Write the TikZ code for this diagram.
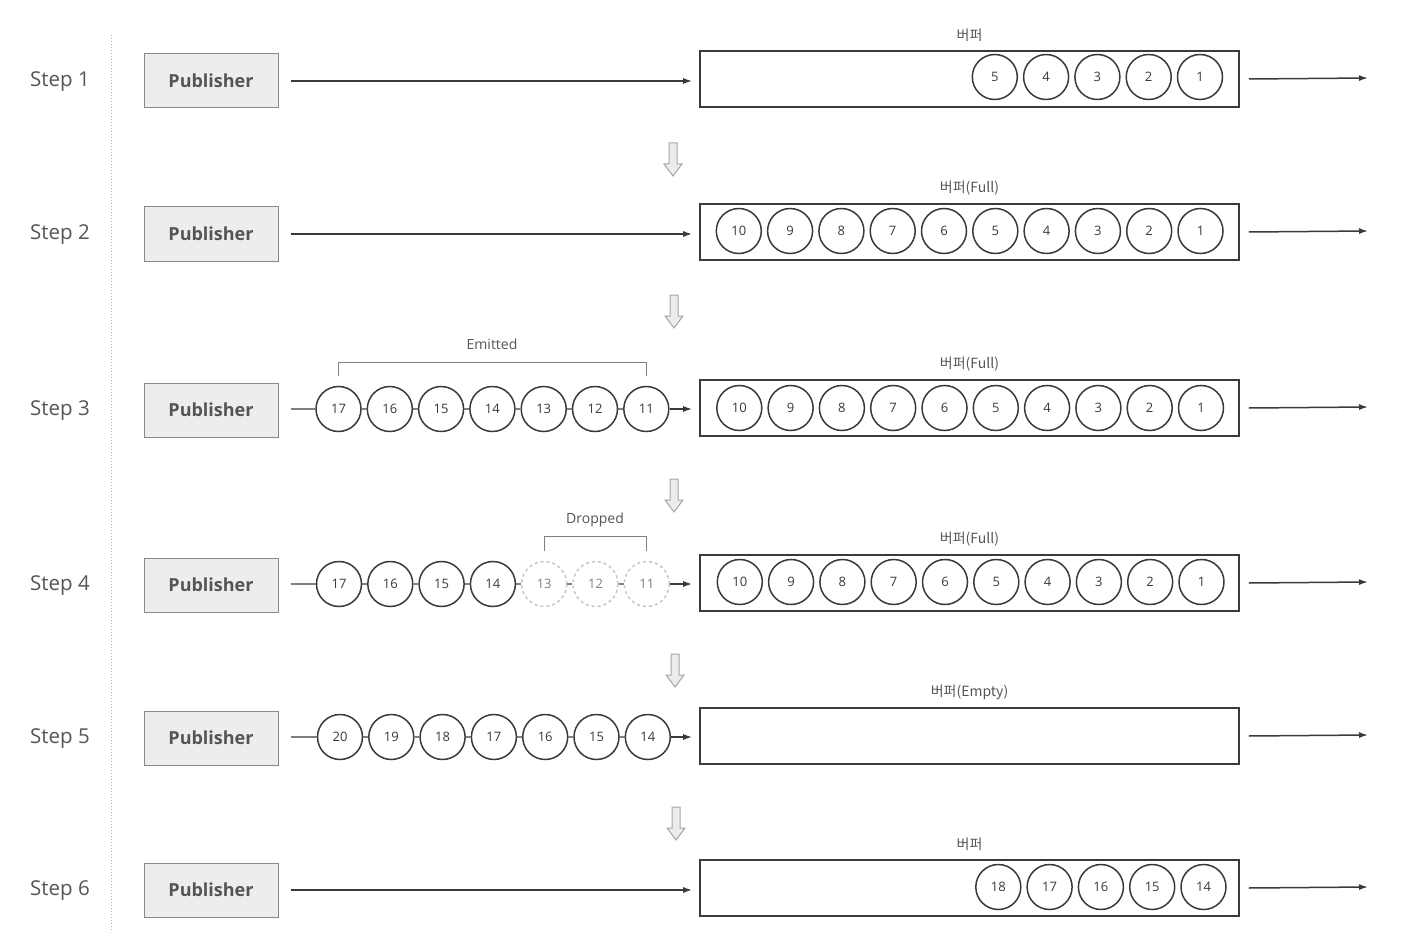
\documentclass[tikz,border=0pt]{standalone}
\usepackage{fontspec}
\setmainfont{Open Sans}
\newfontfamily\krfont{Noto Sans CJK KR}
\usetikzlibrary{arrows.meta,calc}
\definecolor{linec}{HTML}{3A3A3A}
\definecolor{txtg}{HTML}{555555}
\definecolor{pubfill}{HTML}{EDEDED}
\definecolor{pubdraw}{HTML}{8A8A8A}
\tikzset{
  steplabel/.style={font=\fontsize{20.5}{23}\selectfont, text=txtg},
  pub/.style={draw=pubdraw, line width=1pt, fill=pubfill, minimum width=134pt, minimum height=54pt, inner sep=0pt, font=\bfseries\fontsize{18}{20}\selectfont, text=txtg},
  buf/.style={draw=linec, line width=1.6pt, minimum width=539pt, minimum height=56pt, inner sep=0pt},
  ball/.style={circle, draw=linec, line width=1.5pt, fill=white, minimum size=45pt, inner sep=0pt, font=\fontsize{13}{14}\selectfont, text=linec},
  dball/.style={ball, dashed, draw=gray!45, text=gray},
  flow/.style={draw=linec, line width=1.5pt, -{Latex[length=9pt,width=6pt]}},
  link/.style={draw=gray, line width=1.3pt},
  buflabel/.style={font=\krfont\fontsize{14}{16}\selectfont, text=txtg},
  brlabel/.style={font=\fontsize{14}{16}\selectfont, text=txtg},
  bracket/.style={draw=gray, line width=1pt},
  downarr/.style={fill=gray!15, draw=gray!70, line width=1pt}
}
\newcommand{\darrow}[2]{%
  \filldraw[downarr] (#1-4,#2) -- (#1+4,#2) -- (#1+4,#2+21) -- (#1+9,#2+21) -- (#1,#2+33) -- (#1-9,#2+21) -- (#1-4,#2+21) -- cycle;}
\begin{document}
\begin{tikzpicture}[x=1pt,y=-1pt]
\useasboundingbox (0,0) rectangle (1411,936);
\fill[white] (0,0) rectangle (1411,936);
% dotted separator
\draw[gray!60, dotted, line width=1pt] (111,35) -- (111,932);

% rows
\foreach \r/\y in {1/80,2/233,3/409,4/584,5/737,6/889}{
  \node[steplabel] (s\r) at (60,\y+2) {Step \r};
  \node[pub] (p\r) at (211,\y+1) {Publisher};
  \coordinate (st\r) at ([xshift=12pt]p\r.east);
  \node[buf] (q\r) at (969.5,\y-1) {};
  \coordinate (o\r) at (1368,\y-2);
  \draw[flow] ([xshift=9pt]q\r.east) -- (o\r);
}

% buffer labels
\node[buflabel] (l1) at ([yshift=15pt]q1.north) {버퍼};
\node[buflabel] (l2) at ([yshift=15pt]q2.north) {버퍼(Full)};
\node[buflabel] (l3) at ([yshift=15pt]q3.north) {버퍼(Full)};
\node[buflabel] (l4) at ([yshift=15pt]q4.north) {버퍼(Full)};
\node[buflabel] (l5) at ([yshift=15pt]q5.north) {버퍼(Empty)};
\node[buflabel] (l6) at ([yshift=15pt]q6.north) {버퍼};

% step 1: direct arrow, buffer 5..1
\draw[flow, shorten >=7pt] (st1) -- (q1.west |- st1);
\foreach \n in {1,...,5}{
  \node[ball] (b1-\n) at ({1200-(\n-1)*51.3},77) {\n};
}
% step 2
\draw[flow, shorten >=7pt] (st2) -- (q2.west |- st2);
\foreach \n in {1,...,10}{
  \node[ball] (b2-\n) at ({1200.5-(\n-1)*51.3},231) {\n};
}
% step 3
\foreach \n in {1,...,10}{
  \node[ball] (b3-\n) at ({1201-(\n-1)*51.3},408) {\n};
}
\foreach \n [count=\i from 0] in {17,16,15,14,13,12,11}{
  \node[ball] (c3-\n) at ({338.5+\i*51.3},409) {\n};
}
\draw[link] (st3 |- c3-17.west) -- (c3-17.west);
\foreach \a/\b in {17/16,16/15,15/14,14/13,13/12,12/11}{
  \draw[link] (c3-\a.east) -- (c3-\b.west);
}
\draw[flow, shorten >=7pt] (c3-11.east) -- (q3.west |- c3-11.east);
\draw[bracket] ([yshift=10pt]c3-17.north) -- ++(0,-13) -| ([yshift=10pt]c3-11.north);
\node[brlabel] (em) at (492,344) {Emitted};

% step 4
\foreach \n in {1,...,10}{
  \node[ball] (b4-\n) at ({1201.5-(\n-1)*51.3},582) {\n};
}
\foreach \n [count=\i from 0] in {17,16,15,14}{
  \node[ball] (c4-\n) at ({339+\i*51.3},584) {\n};
}
\foreach \n [count=\i from 4] in {13,12,11}{
  \node[dball] (c4-\n) at ({339+\i*51.3},584) {\n};
}
\draw[link] (st4 |- c4-17.west) -- (c4-17.west);
\foreach \a/\b in {17/16,16/15,15/14,14/13,13/12,12/11}{
  \draw[link] (c4-\a.east) -- (c4-\b.west);
}
\draw[flow, shorten >=7pt] (c4-11.east) -- (q4.west |- c4-11.east);
\draw[bracket] ([yshift=10pt]c4-13.north) -- ++(0,-14) -| ([yshift=10pt]c4-11.north);
\node[brlabel] (dr) at (595,520) {Dropped};

% step 5
\foreach \n [count=\i from 0] in {20,19,18,17,16,15,14}{
  \node[ball] (c5-\n) at ({340+\i*51.3},737) {\n};
}
\draw[link] (st5 |- c5-20.west) -- (c5-20.west);
\foreach \a/\b in {20/19,19/18,18/17,17/16,16/15,15/14}{
  \draw[link] (c5-\a.east) -- (c5-\b.west);
}
\draw[flow, shorten >=7pt] (c5-14.east) -- (q5.west |- c5-14.east);

% step 6
\draw[flow, shorten >=7pt] (st6) -- (q6.west |- st6);
\foreach \n [count=\i from 0] in {14,15,16,17,18}{
  \node[ball] (b6-\n) at ({1203.5-\i*51.3},887) {\n};
}

% down arrows
\darrow{673}{143}
\darrow{674}{295}
\darrow{674}{479}
\darrow{675}{654}
\darrow{676}{807}
\end{tikzpicture}
\end{document}
